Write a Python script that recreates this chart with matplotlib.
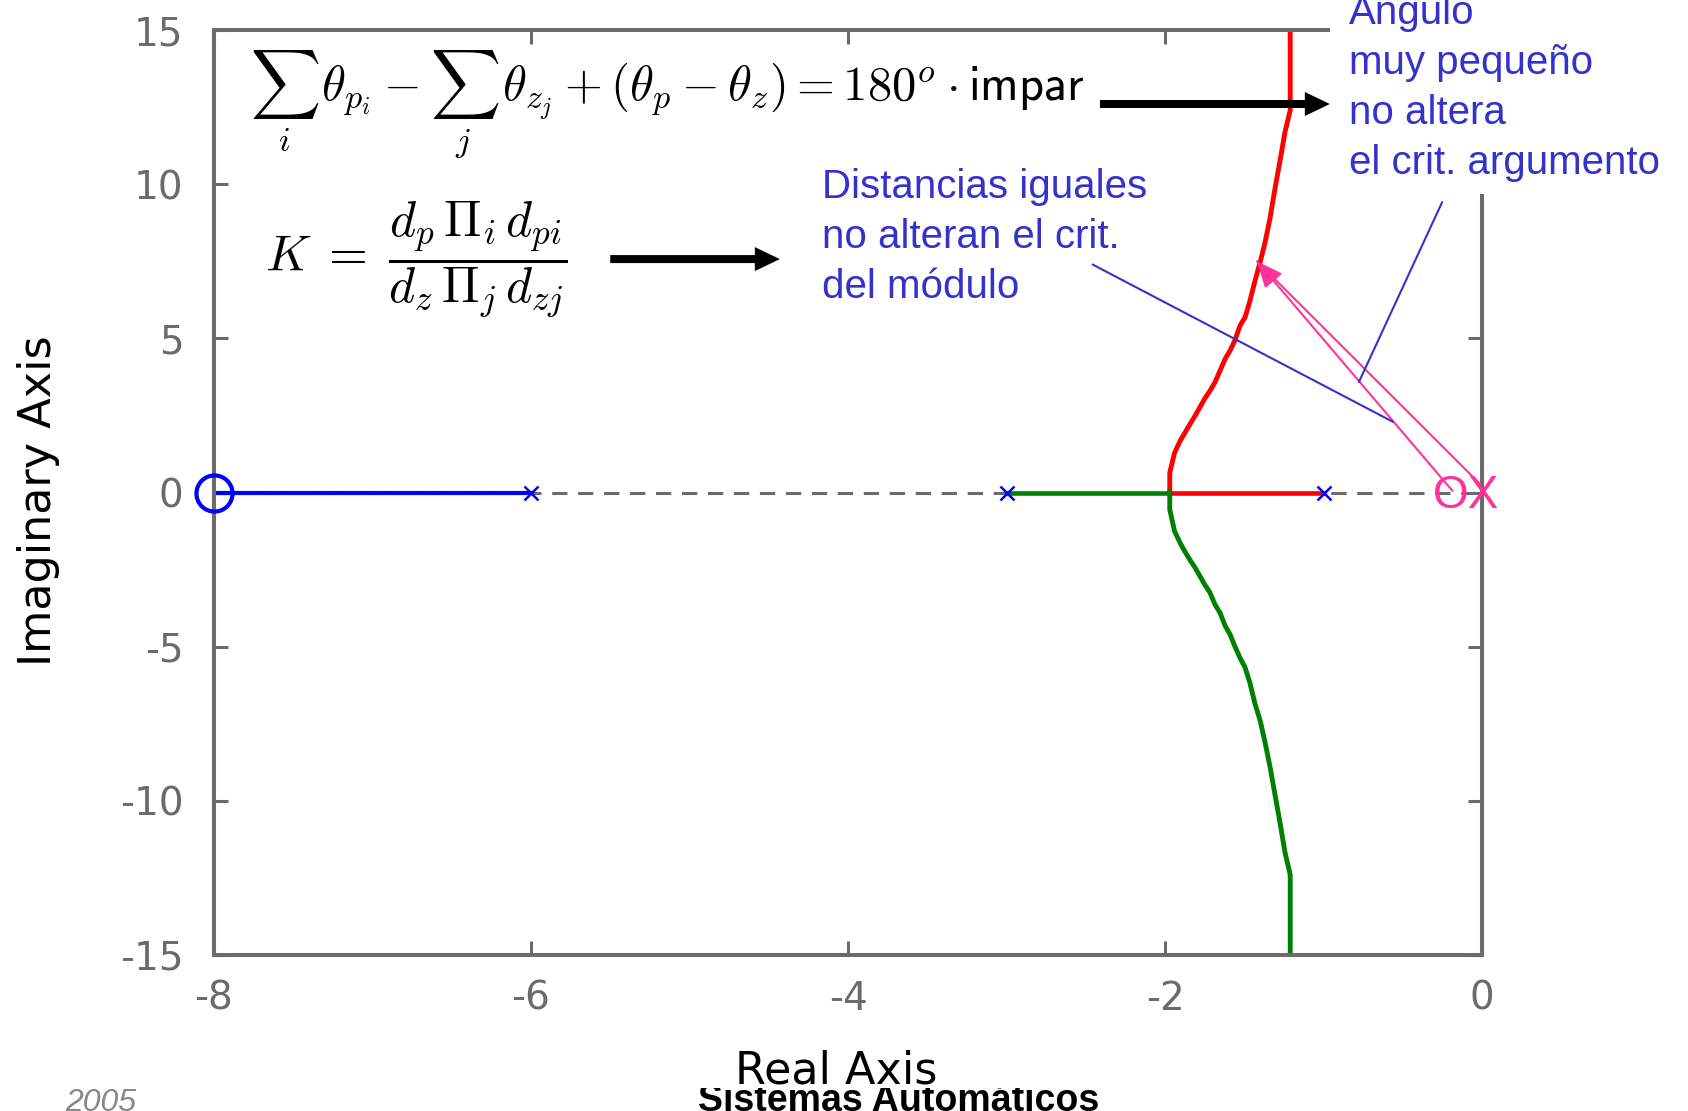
import matplotlib
matplotlib.use("Agg")
import matplotlib.pyplot as plt
from matplotlib.patches import Rectangle
from matplotlib.transforms import Bbox, TransformedBbox

# root locus data
zero_re = [-8]
pole_re = [-6, -3, -1]
blue_seg = [-8, -6]
green_seg = [-3, -1.97]
red_seg = [-1.97, -1]

up_re = [-1.97, -1.97, -1.94, -1.905, -1.874, -1.842, -1.81, -1.78, -1.75, -1.716,
         -1.685, -1.653, -1.62, -1.59, -1.56, -1.527, -1.495, -1.464, -1.432, -1.40,
         -1.37, -1.338, -1.306, -1.274, -1.243, -1.21, -1.21]
up_im = [0.0, 0.64, 1.28, 1.67, 1.94, 2.22, 2.49, 2.76, 3.04, 3.30,
         3.57, 3.95, 4.34, 4.60, 4.92, 5.41, 5.68, 6.22, 6.87, 7.47,
         8.08, 8.88, 9.86, 10.77, 11.69, 12.40, 15.0]
lo_re = [-1.97, -1.97, -1.94, -1.905, -1.874, -1.842, -1.81, -1.78, -1.75, -1.716,
         -1.685, -1.653, -1.62, -1.59, -1.56, -1.527, -1.495, -1.464, -1.432, -1.40,
         -1.37, -1.338, -1.306, -1.274, -1.243, -1.21, -1.21]
lo_im = [0.0, -0.55, -1.25, -1.63, -1.92, -2.19, -2.44, -2.71, -2.98, -3.25,
         -3.63, -3.90, -4.33, -4.60, -4.98, -5.36, -5.67, -6.18, -6.86, -7.39,
         -8.07, -8.88, -9.80, -10.72, -11.67, -12.40, -15.0]

xticks = [-8, -6, -4, -2, 0]
yticks = [-15, -10, -5, 0, 5, 10, 15]

gray = "#6b6b6b"
blue_txt = "#3333cc"
pink = "#ff3399"

plt.rcParams["mathtext.fontset"] = "cm"

fig = plt.figure(figsize=(16.88, 11.11), dpi=100, facecolor="white")
ax = fig.add_axes([214 / 1688, 156 / 1111, 1268 / 1688, 925 / 1111])
ax.set_xlim(-8, 0)
ax.set_ylim(-15, 15)

# real axis (dashed) and locus
ax.axhline(0, color=gray, lw=2.2, ls=(0, (5, 3.5)), zorder=1)
ax.plot(blue_seg, [0, 0], color="#0000ff", lw=3, zorder=2)
ax.plot(green_seg, [0, 0], color="#008000", lw=3.3, zorder=2)
ax.plot(red_seg, [0, 0], color="#ff0000", lw=3.3, zorder=2)
ax.plot(up_re, up_im, color="#ff0000", lw=3.5, zorder=2)
ax.plot(lo_re, lo_im, color="#008000", lw=3.5, zorder=2)
ax.plot(pole_re, [0] * len(pole_re), "x", color="#0000ff", ms=10, mew=1.8, zorder=3)
ax.plot(zero_re, [0], "o", mfc="none", mec="#0000ff", ms=26, mew=3, zorder=3, clip_on=False)

# axes look
for s in ax.spines.values():
    s.set_color(gray)
    s.set_linewidth(2.9)
ax.set_xticks(xticks)
ax.set_yticks(yticks)
ax.set_xticklabels([str(v) for v in xticks])
ax.set_yticklabels([str(v) for v in yticks])
ax.tick_params(direction="in", length=10, width=2.2, color=gray, labelcolor=gray,
               labelsize=28, top=True, right=True)
ax.tick_params(axis="x", pad=18)
ax.tick_params(axis="y", pad=22)
ax.set_xlabel("Real Axis", fontsize=32, va="center")
ax.xaxis.set_label_coords(0.491, -0.1254)
ax.set_ylabel("Imaginary Axis", fontsize=32, va="center")
ax.yaxis.set_label_coords(-0.1388, 0.491)

# formulas and arrows
ax.text(-7.77, 12.6,
        r"$\sum_i \,\theta_{p_i} - \sum_j \,\theta_{z_j} + (\theta_p - \theta_z) = 180^o \cdot \mathsf{impar}$",
        fontsize=35, ha="left", va="center")
ax.text(-7.68, 7.57, r"$K \;=\; \dfrac{d_p\, \Pi_i\, d_{pi}}{d_z\, \Pi_j\, d_{zj}}$",
        fontsize=36, ha="left", va="center")
ax.annotate("", xy=(-0.96, 12.6), xytext=(-2.41, 12.6),
            arrowprops=dict(arrowstyle="simple,head_length=0.5,head_width=0.48,tail_width=0.16",
                            mutation_scale=36, color="black", lw=0, shrinkA=0, shrinkB=0))
ax.annotate("", xy=(-4.43, 7.57), xytext=(-5.50, 7.57),
            arrowprops=dict(arrowstyle="simple,head_length=0.5,head_width=0.48,tail_width=0.16",
                            mutation_scale=36, color="black", lw=0, shrinkA=0, shrinkB=0))

# blue notes (multi-line baseline = last line)
ax.text(-4.164, 6.31, "Distancias iguales\nno alteran el crit.\ndel módulo", fontsize=29,
        family="Liberation Sans", color=blue_txt, ha="left", va="baseline", linespacing=1.4)
ax.plot([-2.455, -0.565], [7.39, 2.30], color=blue_txt, lw=1.5, zorder=4)
ax.plot([-0.252, -0.776], [9.41, 3.59], color=blue_txt, lw=1.5, zorder=4)

# pink pole/zero pair and angle arrows
ax.text(-0.31, -0.50, "OX", fontsize=33, family="Liberation Sans", color=pink,
        ha="left", va="baseline", clip_on=False, zorder=5)
ax.annotate("", xy=(-1.42, 7.5), xytext=(-0.186, 0.05),
            arrowprops=dict(arrowstyle="-|>,head_length=0.8,head_width=0.35", color=pink,
                            lw=1.5, mutation_scale=20, shrinkA=0, shrinkB=0))
ax.annotate("", xy=(-1.42, 7.5), xytext=(-0.013, 0.28),
            arrowprops=dict(arrowstyle="-", color=pink, lw=1.5, shrinkA=0, shrinkB=0))

# white card behind the right-hand note
fig.add_artist(Rectangle((1330 / 1688, 1 - 194 / 1111), 1, 1, transform=fig.transFigure,
                         facecolor="white", edgecolor="none", zorder=5))
fig.text(1349 / 1688, 1 - 174 / 1111, "Ángulo\nmuy pequeño\nno altera\nel crit. argumento",
         fontsize=29, family="Liberation Sans", color=blue_txt, ha="left", va="baseline",
         linespacing=1.4, zorder=6)

# slide footer, mostly hidden under the chart
clip = TransformedBbox(Bbox([[0, 0], [1, 23 / 1111]]), fig.transFigure)
t1 = fig.text(65 / 1688, 0, "2005", fontsize=23, style="italic",
              family="Liberation Sans", color="#888888", ha="left", va="baseline")
t2 = fig.text(899 / 1688, 0, "Sistemas Automáticos", fontsize=27, weight="bold",
              family="Liberation Sans", color="black", ha="center", va="baseline")
for t in (t1, t2):
    t.set_clip_box(clip)
    t.set_clip_on(True)

fig.savefig("out.png", dpi=100, facecolor="white")
